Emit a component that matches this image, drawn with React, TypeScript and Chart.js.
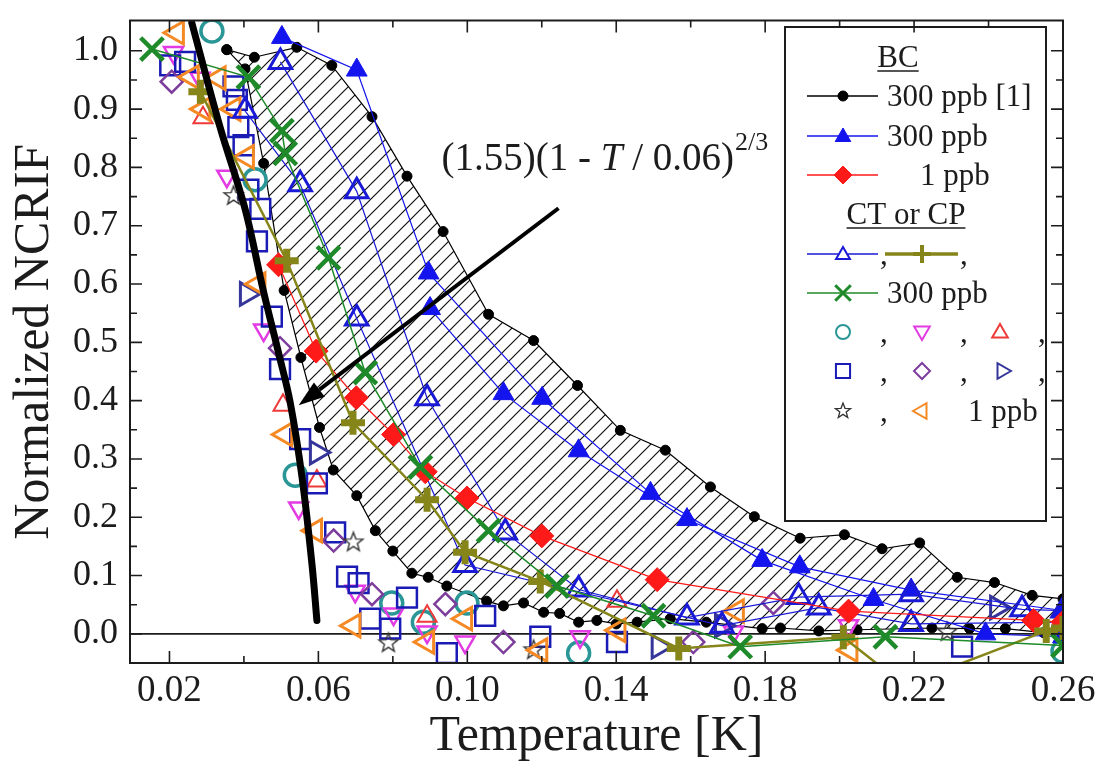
import React, { useEffect, useRef } from 'react';
import { Chart, registerables } from 'chart.js';

Chart.register(...registerables);

const FONT = "'Liberation Serif', 'Times New Roman', serif";
const INK = '#1c1c1c';

// ---- axes ----
const xRange = [0.0094, 0.26];
const yRange = [-0.05, 1.052];
const xMajorTicks = [0.02, 0.06, 0.1, 0.14, 0.18, 0.22, 0.26];
const xMinorTicks = [0.04, 0.08, 0.12, 0.16, 0.2, 0.24];
const yMajorTicks = [0.0, 0.1, 0.2, 0.3, 0.4, 0.5, 0.6, 0.7, 0.8, 0.9, 1.0];
const yMinorTicks = [-0.05, 0.05, 0.15, 0.25, 0.35, 0.45, 0.55, 0.65, 0.75, 0.85, 0.95];

// ---- BC 300 ppb [1] (black dots): upper and lower boundary of hatched band ----
const bcRefUpper = [
  [0.0354, 1.002], [0.0428, 0.989], [0.0542, 1.006], [0.0636, 0.975], [0.0744, 0.887],
  [0.0838, 0.785], [0.0935, 0.69], [0.1057, 0.548], [0.1178, 0.503], [0.1296, 0.426],
  [0.1411, 0.349], [0.1532, 0.315], [0.1653, 0.252], [0.1771, 0.201], [0.1894, 0.164],
  [0.2013, 0.17], [0.2114, 0.146], [0.2215, 0.156], [0.2316, 0.097], [0.2416, 0.088],
  [0.2517, 0.066], [0.26, 0.06],
];
const bcRefLower = [
  [0.0354, 1.002], [0.0403, 0.969], [0.0453, 0.807], [0.0508, 0.589], [0.0553, 0.474],
  [0.0603, 0.354], [0.064, 0.281], [0.0703, 0.237], [0.0753, 0.177], [0.08, 0.142],
  [0.0851, 0.104], [0.0895, 0.097], [0.0945, 0.082], [0.1052, 0.056], [0.1097, 0.048],
  [0.1151, 0.053], [0.1205, 0.037], [0.1248, 0.035], [0.1299, 0.02], [0.1348, 0.023],
  [0.14, 0.017], [0.1456, 0.02], [0.1545, 0.026], [0.1642, 0.02], [0.1792, 0.009],
  [0.1841, 0.01], [0.1944, 0.005], [0.2047, 0.007], [0.2248, 0.01], [0.2349, 0.009],
  [0.2445, 0.009], [0.2548, 0.002], [0.26, 0.003],
];

// ---- BC 300 ppb (filled blue triangles) ----
const bc300A = [
  [0.0502, 1.023], [0.0703, 0.967], [0.0896, 0.619], [0.1201, 0.404], [0.1492, 0.241],
  [0.1792, 0.126], [0.2091, 0.059], [0.2392, 0.0], [0.26, -0.005],
];
const bc300B = [
  [0.09, 0.558], [0.1097, 0.412], [0.1299, 0.314], [0.159, 0.196], [0.1893, 0.115],
  [0.2192, 0.075], [0.26, 0.04],
];

// ---- BC 1 ppb (red diamonds) ----
const bc1 = [
  [0.0493, 0.633], [0.0594, 0.485], [0.0702, 0.405], [0.0802, 0.342], [0.0887, 0.278],
  [0.0999, 0.233], [0.12, 0.168], [0.151, 0.093], [0.2024, 0.039], [0.2521, 0.023], [0.26, 0.02],
];

// ---- CT or CP 300 ppb ----
const ct300TriA = [
  [0.0498, 0.981], [0.0703, 0.759], [0.0892, 0.404], [0.1102, 0.174], [0.1299, 0.076],
  [0.159, 0.028], [0.189, 0.063], [0.2192, 0.068], [0.249, 0.042], [0.26, 0.04],
];
const ct300TriB = [
  [0.0403, 0.897], [0.0551, 0.771], [0.0703, 0.541], [0.0994, 0.118], [0.1684, 0.014],
  [0.1944, 0.045], [0.2192, 0.017], [0.26, 0.02],
];
const ct300Plus = [
  [0.0283, 0.93], [0.0515, 0.64], [0.0693, 0.362], [0.0892, 0.23], [0.0994, 0.14],
  [0.1196, 0.09], [0.1568, -0.025], [0.201, -0.006], [0.2174, -0.088], [0.2555, 0.005], [0.26, 0.01],
];
const ct300X = [
  [0.0153, 1.003], [0.0412, 0.955], [0.0502, 0.863], [0.0511, 0.824], [0.0627, 0.645],
  [0.0726, 0.448], [0.0874, 0.286], [0.1057, 0.177], [0.1241, 0.082], [0.15, 0.031],
  [0.1733, -0.022], [0.2123, -0.005], [0.26, -0.02],
];

// ---- CT or CP 1 ppb (open symbols, no lines) ----
const ct1Circle = [
  [0.0314, 1.034], [0.043, 0.779], [0.0538, 0.272], [0.0797, 0.053], [0.0882, 0.02],
  [0.0999, 0.053], [0.1299, -0.033], [0.26, -0.03],
];
const ct1Down = [
  [0.0211, 0.997], [0.0282, 0.953], [0.0354, 0.785], [0.0453, 0.521], [0.0547, 0.216],
  [0.0699, 0.073], [0.0802, 0.034], [0.0892, 0.003], [0.0994, -0.014], [0.1303, -0.005],
  [0.1715, 0.003], [0.2024, 0.014], [0.26, 0.005],
];
const ct1Up = [
  [0.029, 0.885], [0.0505, 0.392], [0.0596, 0.262], [0.0892, 0.03], [0.1402, 0.056],
];
const ct1Square = [
  [0.0202, 0.975], [0.0242, 0.981], [0.0372, 0.939], [0.0381, 0.916], [0.0385, 0.869],
  [0.0399, 0.838], [0.0412, 0.762], [0.0444, 0.729], [0.0435, 0.673], [0.0475, 0.544],
  [0.0497, 0.454], [0.0551, 0.334], [0.0596, 0.258], [0.0645, 0.174], [0.0677, 0.098],
  [0.0708, 0.087], [0.0739, 0.026], [0.0793, 0.009], [0.0838, 0.062], [0.0945, -0.033],
  [0.1048, 0.031], [0.1196, -0.005], [0.1402, -0.014], [0.2329, -0.022],
];
const ct1Diamond = [
  [0.0206, 0.947], [0.0497, 0.49], [0.0641, 0.16], [0.0744, 0.068], [0.0941, 0.051],
  [0.1097, -0.014], [0.1607, -0.014], [0.1822, 0.053],
];
const ct1Right = [
  [0.0408, 0.583], [0.0596, 0.311], [0.1514, -0.022], [0.1684, 0.014], [0.2423, 0.045],
];
const ct1Star = [
  [0.0372, 0.751], [0.0694, 0.157], [0.0788, -0.016], [0.1178, -0.028], [0.2289, 0.003],
];
const ct1Left = [
  [0.022, 1.031], [0.026, 0.955], [0.0332, 0.953], [0.0291, 0.9], [0.0372, 0.9],
  [0.0408, 0.818], [0.0439, 0.6], [0.0511, 0.342], [0.0591, 0.177], [0.0694, 0.014],
  [0.0892, -0.014], [0.0994, 0.026], [0.1196, -0.028], [0.1406, 0.006], [0.1724, 0.039],
  [0.2029, -0.028],
];

// ---- fit curve (1.55)(1 - T/0.06)^(2/3) ----
const fitCurve = [
  [0.026, 1.048], [0.0336, 0.869], [0.0403, 0.729], [0.0452, 0.589], [0.0493, 0.482],
  [0.0524, 0.398], [0.0556, 0.269], [0.0583, 0.118], [0.0596, 0.023],
];

// ---- annotation ----
const formulaAnchor = [0.0931, 0.796];
const arrowFrom = [0.1245, 0.73];
const arrowTo = [0.0547, 0.392];

// ---- colours ----
const C = {
  black: '#000000',
  blue: '#1414ee',
  red: '#ff1a1a',
  openBlue: '#1a1ad6',
  olive: '#85851a',
  green: '#1f8a2a',
  teal: '#2a9696',
  magenta: '#e33be3',
  redTri: '#f03a3a',
  square: '#1a1ab4',
  purple: '#7d3d9c',
  navy: '#35359a',
  star: '#333333',
  orange: '#f58a25',
};

const toXY = (pts: number[][]) => pts.map(([x, y]) => ({ x, y }));

function drawMarker(
  ctx: CanvasRenderingContext2D, kind: string, x: number, y: number, r: number,
  color: string, fill: boolean, lw: number, rot = 0,
) {
  ctx.save();
  ctx.translate(x, y);
  ctx.rotate((rot * Math.PI) / 180);
  ctx.beginPath();
  if (kind === 'circle') {
    ctx.arc(0, 0, r, 0, Math.PI * 2);
  } else if (kind === 'triangle') {
    for (let k = 0; k < 3; k++) {
      const a = (k * 2 * Math.PI) / 3;
      const px = Math.sin(a) * r, py = -Math.cos(a) * r;
      if (k === 0) ctx.moveTo(px, py); else ctx.lineTo(px, py);
    }
    ctx.closePath();
  } else if (kind === 'rect') {
    const s = r * Math.SQRT1_2;
    ctx.rect(-s, -s, 2 * s, 2 * s);
  } else if (kind === 'rectRot') {
    ctx.moveTo(0, -r); ctx.lineTo(r, 0); ctx.lineTo(0, r); ctx.lineTo(-r, 0); ctx.closePath();
  } else if (kind === 'cross') {
    ctx.moveTo(0, -r); ctx.lineTo(0, r); ctx.moveTo(-r, 0); ctx.lineTo(r, 0);
  } else if (kind === 'crossRot') {
    const s = r * Math.SQRT1_2;
    ctx.moveTo(-s, -s); ctx.lineTo(s, s); ctx.moveTo(-s, s); ctx.lineTo(s, -s);
  } else if (kind === 'star') {
    for (let k = 0; k < 10; k++) {
      const a = (k * Math.PI) / 5;
      const rr = k % 2 === 0 ? r : r * 0.42;
      const px = Math.sin(a) * rr, py = -Math.cos(a) * rr;
      if (k === 0) ctx.moveTo(px, py); else ctx.lineTo(px, py);
    }
    ctx.closePath();
  }
  if (fill) { ctx.fillStyle = color; ctx.fill(); }
  ctx.strokeStyle = color;
  ctx.lineWidth = lw;
  ctx.lineCap = 'butt';
  ctx.stroke();
  ctx.restore();
}

function makeStarImage(r: number) {
  const c = document.createElement('canvas');
  const s = Math.ceil(r * 2 + 4);
  c.width = s; c.height = s;
  const g = c.getContext('2d')!;
  drawMarker(g, 'star', s / 2, s / 2, r, C.star, false, 1.4);
  return c;
}

function makeHatch(ctx: CanvasRenderingContext2D) {
  const t = document.createElement('canvas');
  const n = 15;
  t.width = n; t.height = n;
  const g = t.getContext('2d')!;
  g.strokeStyle = '#111';
  g.lineWidth = 1.2;
  g.beginPath();
  g.moveTo(0, n); g.lineTo(n, 0);
  g.moveTo(-3, 3); g.lineTo(3, -3);
  g.moveTo(n - 3, n + 3); g.lineTo(n + 3, n - 3);
  g.stroke();
  return ctx.createPattern(t, 'repeat');
}

const decorPlugin = {
  id: 'decor',
  beforeDatasetsDraw(chart: any) {
    const { ctx, chartArea: a, scales } = chart;
    const y0 = scales.y.getPixelForValue(0);
    ctx.save();
    ctx.strokeStyle = INK;
    ctx.lineWidth = 1.6;
    ctx.beginPath();
    ctx.moveTo(a.left, y0); ctx.lineTo(a.right, y0);
    ctx.stroke();
    ctx.restore();
  },
  afterDatasetsDraw(chart: any) {
    const { ctx, scales } = chart;
    const X = (v: number) => scales.x.getPixelForValue(v);
    const Y = (v: number) => scales.y.getPixelForValue(v);

    // arrow
    const x1 = X(arrowFrom[0]), y1 = Y(arrowFrom[1]);
    const x2 = X(arrowTo[0]), y2 = Y(arrowTo[1]);
    const ang = Math.atan2(y2 - y1, x2 - x1);
    const headL = 26, headW = 9;
    const bx = x2 - Math.cos(ang) * headL, by = y2 - Math.sin(ang) * headL;
    ctx.save();
    ctx.strokeStyle = '#000';
    ctx.lineWidth = 4;
    ctx.beginPath(); ctx.moveTo(x1, y1); ctx.lineTo(bx, by); ctx.stroke();
    ctx.fillStyle = '#000';
    ctx.beginPath();
    ctx.moveTo(x2, y2);
    ctx.lineTo(bx + Math.sin(ang) * headW, by - Math.cos(ang) * headW);
    ctx.lineTo(bx - Math.sin(ang) * headW, by + Math.cos(ang) * headW);
    ctx.closePath(); ctx.fill();
    ctx.restore();

    // formula text
    ctx.save();
    ctx.fillStyle = INK;
    ctx.textBaseline = 'alphabetic';
    let tx = X(formulaAnchor[0]);
    const ty = Y(formulaAnchor[1]);
    const parts: [string, boolean][] = [['(1.55)(1 - ', false], ['T', true], [' / 0.06)', false]];
    for (const [s, it] of parts) {
      ctx.font = `${it ? 'italic ' : ''}39px ${FONT}`;
      ctx.fillText(s, tx, ty);
      tx += ctx.measureText(s).width;
    }
    ctx.font = `26px ${FONT}`;
    ctx.fillText('2/3', tx + 1, ty - 20);
    ctx.restore();

    // legend box
    const L = { left: 785, top: 27, right: 1046, bottom: 521 };
    ctx.save();
    ctx.fillStyle = '#fff';
    ctx.fillRect(L.left, L.top, L.right - L.left, L.bottom - L.top);
    ctx.strokeStyle = INK;
    ctx.lineWidth = 2;
    ctx.strokeRect(L.left, L.top, L.right - L.left, L.bottom - L.top);

    ctx.font = `31px ${FONT}`;
    ctx.fillStyle = INK;
    ctx.textBaseline = 'alphabetic';
    const text = (s: string, x: number, y: number, align: CanvasTextAlign = 'left') => {
      ctx.fillStyle = INK;
      ctx.textAlign = align;
      ctx.fillText(s, x, y + 10);
    };
    const underline = (s: string, cx: number, y: number) => {
      const w = ctx.measureText(s).width;
      ctx.beginPath();
      ctx.lineWidth = 1.6;
      ctx.strokeStyle = INK;
      ctx.moveTo(cx - w / 2, y + 14); ctx.lineTo(cx + w / 2, y + 14);
      ctx.stroke();
    };
    const sample = (xa: number, xb: number, y: number, color: string, lw: number) => {
      ctx.beginPath();
      ctx.strokeStyle = color;
      ctx.lineWidth = lw;
      ctx.moveTo(xa, y); ctx.lineTo(xb, y);
      ctx.stroke();
    };
    const mx1 = 843, mx2 = 922, mx3 = 1000;
    const c1 = 880, c2 = 960, c3 = 1038;

    text('BC', 898, 57, 'center'); underline('BC', 898, 57);
    sample(807, 878, 96, '#000', 1.5); drawMarker(ctx, 'circle', mx1, 96, 5, '#000', true, 1);
    text('300 ppb [1]', 887, 96);
    sample(807, 878, 136, C.blue, 1.5); drawMarker(ctx, 'triangle', mx1, 137, 9, C.blue, true, 1);
    text('300 ppb', 887, 136);
    sample(807, 878, 175, C.red, 1.5); drawMarker(ctx, 'rectRot', mx1, 175, 9, C.red, true, 1);
    text('1 ppb', 920, 175);
    text('CT or CP', 906, 214, 'center'); underline('CT or CP', 906, 214);
    sample(807, 878, 254, C.openBlue, 1.5);
    ctx.fillStyle = '#fff'; ctx.fillRect(mx1 - 5, 252, 10, 5);
    drawMarker(ctx, 'triangle', mx1, 255, 8, C.openBlue, false, 2);
    text(',', c1, 254);
    sample(885, 958, 254, C.olive, 3.5); drawMarker(ctx, 'cross', mx2, 254, 9, C.olive, false, 4);
    text(',', c2, 254);
    sample(807, 878, 293, C.green, 1.5); drawMarker(ctx, 'crossRot', mx1, 293, 11, C.green, false, 3);
    text('300 ppb', 887, 293);

    drawMarker(ctx, 'circle', mx1, 332, 7, C.teal, false, 2);
    text(',', c1, 332);
    drawMarker(ctx, 'triangle', mx2, 331, 9, C.magenta, false, 2, 180);
    text(',', c2, 332);
    drawMarker(ctx, 'triangle', mx3, 333, 9, C.redTri, false, 2);
    text(',', c3, 332);

    drawMarker(ctx, 'rect', mx1, 371, 10, C.square, false, 2);
    text(',', c1, 371);
    drawMarker(ctx, 'rectRot', mx2, 371, 8, C.purple, false, 2);
    text(',', c2, 371);
    drawMarker(ctx, 'triangle', mx3 + 2, 371, 9, C.navy, false, 2, 90);
    text(',', c3, 371);

    drawMarker(ctx, 'star', mx1, 411, 8, C.star, false, 1.3);
    text(',', c1, 411);
    drawMarker(ctx, 'triangle', mx2, 411, 9, C.orange, false, 2, 270);
    text('1 ppb', 968, 411);
    ctx.restore();
  },
  afterDraw(chart: any) {
    const { ctx, chartArea: a, scales } = chart;
    ctx.save();
    ctx.strokeStyle = INK;
    ctx.lineWidth = 2;
    ctx.strokeRect(a.left, a.top, a.right - a.left, a.bottom - a.top);
    ctx.lineWidth = 1.6;
    ctx.beginPath();
    const xt = (v: number, len: number) => {
      const p = scales.x.getPixelForValue(v);
      ctx.moveTo(p, a.bottom); ctx.lineTo(p, a.bottom - len);
      ctx.moveTo(p, a.top); ctx.lineTo(p, a.top + len);
    };
    const yt = (v: number, len: number) => {
      const p = scales.y.getPixelForValue(v);
      ctx.moveTo(a.left, p); ctx.lineTo(a.left + len, p);
      ctx.moveTo(a.right, p); ctx.lineTo(a.right - len, p);
    };
    xMajorTicks.forEach((v) => xt(v, 12));
    xMinorTicks.forEach((v) => xt(v, 7));
    yMajorTicks.forEach((v) => yt(v, 12));
    yMinorTicks.forEach((v) => yt(v, 7));
    ctx.stroke();
    ctx.restore();
  },
};

export default function App() {
  const ref = useRef<HTMLCanvasElement>(null);
  useEffect(() => {
    const canvas = ref.current!;
    const ctx = canvas.getContext('2d')!;
    const hatch = makeHatch(ctx);
    const starImg = makeStarImage(10);
    const none = 'rgba(0,0,0,0)';

    const scatter = (label: string, pts: number[][], style: any, color: string, r: number, bw: number, rot = 0) => ({
      label, data: toXY(pts), showLine: false, pointStyle: style, pointRadius: r,
      pointBorderColor: color, pointBackgroundColor: none, pointBorderWidth: bw, pointRotation: rot,
      borderColor: color, backgroundColor: none,
    });
    const lined = (label: string, pts: number[][], color: string, lw: number, style: any, r: number, bw: number, filled: boolean) => ({
      label, data: toXY(pts), showLine: true, borderColor: color, borderWidth: lw, fill: false,
      pointStyle: style, pointRadius: r, pointBorderColor: color, pointBorderWidth: bw,
      pointBackgroundColor: filled ? color : none, backgroundColor: none, tension: 0,
    });

    const polygon = [...bcRefUpper, ...[...bcRefLower].reverse()];

    const datasets: any[] = [
      {
        label: 'fit', data: toXY(fitCurve), showLine: true, borderColor: '#000', borderWidth: 7,
        pointRadius: 0, tension: 0.35, borderCapStyle: 'round', fill: false,
      },
      lined('CT 300 ppb x', ct300X, C.green, 1.5, 'crossRot', 16, 4.5, false),
      lined('CT 300 ppb +', ct300Plus, C.olive, 2.5, 'cross', 12, 7, false),
      lined('BC 1 ppb', bc1, C.red, 1.2, 'rectRot', 12, 1, true),
      lined('CT 300 ppb tri A', ct300TriA, C.openBlue, 1.2, 'triangle', 13, 3, false),
      lined('CT 300 ppb tri B', ct300TriB, C.openBlue, 1.2, 'triangle', 13, 3, false),
      lined('BC 300 ppb A', bc300A, C.blue, 1.2, 'triangle', 12, 1, true),
      lined('BC 300 ppb B', bc300B, C.blue, 1.2, 'triangle', 12, 1, true),
      scatter('CT 1 ppb left', ct1Left, 'triangle', C.orange, 13, 3, 270),
      scatter('CT 1 ppb star', ct1Star, starImg, C.star, 10, 1),
      scatter('CT 1 ppb right', ct1Right, 'triangle', C.navy, 13, 3, 90),
      scatter('CT 1 ppb diamond', ct1Diamond, 'rectRot', C.purple, 11, 2.5),
      scatter('CT 1 ppb square', ct1Square, 'rect', C.square, 14, 2.5),
      scatter('CT 1 ppb up', ct1Up, 'triangle', C.redTri, 11, 2),
      scatter('CT 1 ppb down', ct1Down, 'triangle', C.magenta, 11, 2.5, 180),
      scatter('CT 1 ppb circle', ct1Circle, 'circle', C.teal, 11, 3.5),
      lined('BC ref upper', bcRefUpper, '#000', 1.2, 'circle', 5, 1, true),
      lined('BC ref lower', bcRefLower, '#000', 1.2, 'circle', 5, 1, true),
      {
        label: 'band', data: toXY(polygon), showLine: true, borderWidth: 0, borderColor: none,
        pointRadius: 0, fill: 'shape', backgroundColor: hatch, tension: 0,
      },
    ];

    const zeroPad = (s: any) => { s.paddingLeft = 0; s.paddingRight = 0; s.paddingTop = 0; s.paddingBottom = 0; };

    const chart = new Chart(canvas, {
      type: 'line',
      data: { datasets },
      plugins: [decorPlugin],
      options: {
        animation: false,
        responsive: false,
        devicePixelRatio: 1,
        events: [],
        layout: { padding: { left: 0, right: 38, top: 7, bottom: 0 } },
        plugins: { legend: { display: false }, tooltip: { enabled: false } },
        scales: {
          x: {
            type: 'linear', min: xRange[0], max: xRange[1],
            afterBuildTicks: (s: any) => { s.ticks = xMajorTicks.map((v) => ({ value: v })); },
            afterFit: (s: any) => { s.height = 104; zeroPad(s); },
            grid: { display: false, drawTicks: false },
            border: { display: false },
            ticks: {
              font: { family: FONT, size: 37 }, color: INK, padding: 6, maxRotation: 0, autoSkip: false,
              callback: (v: any) => Number(v).toFixed(2),
            },
            title: {
              display: true, text: 'Temperature [K]', color: INK,
              font: { family: FONT, size: 50 }, padding: { top: 0, bottom: 0 },
            },
          },
          y: {
            type: 'linear', min: yRange[0], max: yRange[1],
            afterBuildTicks: (s: any) => { s.ticks = yMajorTicks.map((v) => ({ value: v })); },
            afterFit: (s: any) => { s.width = 130; zeroPad(s); },
            grid: { display: false, drawTicks: false },
            border: { display: false },
            ticks: {
              font: { family: FONT, size: 36 }, color: INK, padding: 12, autoSkip: false,
              callback: (v: any) => Number(v).toFixed(1),
            },
            title: {
              display: true, text: 'Normalized NCRIF', color: INK,
              font: { family: FONT, size: 50 }, padding: { top: 5, bottom: 0 },
            },
          },
        },
      } as any,
    });
    return () => chart.destroy();
  }, []);

  return (
    <div style={{ position: 'fixed', left: 0, top: 0, width: 1101, height: 767, background: '#fff' }}>
      <canvas ref={ref} width={1101} height={767} style={{ display: 'block', width: 1101, height: 767 }} />
    </div>
  );
}
